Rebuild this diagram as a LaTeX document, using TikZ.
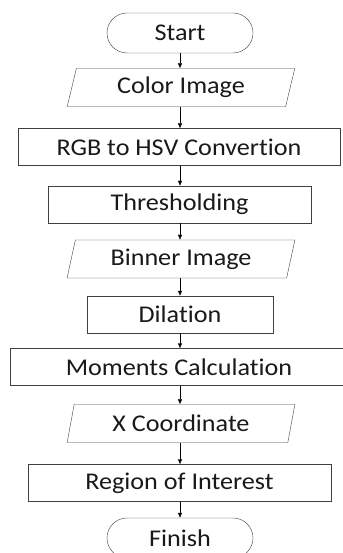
\documentclass[tikz,border=0pt]{standalone}
\usepackage{fontspec}
\setmainfont{Carlito}[FakeStretch=1.09, Ligatures={NoCommon}]
\usetikzlibrary{shapes.geometric,arrows.meta}
\tikzset{
  terminal/.style={draw=black!75, rounded corners=20pt, minimum width=146pt, minimum height=40pt},
  process/.style={draw=black!75, rectangle, minimum height=37pt},
  io/.style={draw=black!75, trapezium, trapezium stretches=true, trapezium left angle=75,
    trapezium right angle=105, minimum width=228pt, minimum height=38pt},
  flow/.style={-{Latex[length=5pt,width=4.5pt]}, black}
}
\begin{document}
\begin{tikzpicture}[x=1pt,y=1pt,font=\fontsize{24}{28}\selectfont, text=black!90, inner sep=0pt]
    \useasboundingbox (0,0) rectangle (342,-553);
    \node[terminal] (start) at (180,-33) {Start};
    \node[io] (color) at (181,-87.5) {Color Image};
    \node[process, minimum width=322pt] (hsv) at (179,-147) {RGB to HSV Convertion};
    \node[process, minimum width=263pt] (thresh) at (179.5,-204.5) {Thresholding};
    \node[io] (binner) at (181,-259) {Binner Image};
    \node[process, minimum width=186pt] (dilate) at (180,-314.5) {Dilation};
    \node[process, minimum width=338pt] (moments) at (179,-367) {Moments Calculation};
    \node[io] (xcoord) at (181,-423.5) {X Coordinate};
    \node[process, minimum width=303pt] (roi) at (179.5,-483) {Region of Interest};
    \node[terminal] (finish) at (180,-538) {Finish};
    % arrows between the steps
    \foreach \a/\b in {start/color, color/hsv, hsv/thresh, thresh/binner, binner/dilate,
                       dilate/moments, moments/xcoord, xcoord/roi, roi/finish}
    \draw[flow] (\a.south -| start.south) -- (\b.north -| start.south);
\end{tikzpicture}
\end{document}
